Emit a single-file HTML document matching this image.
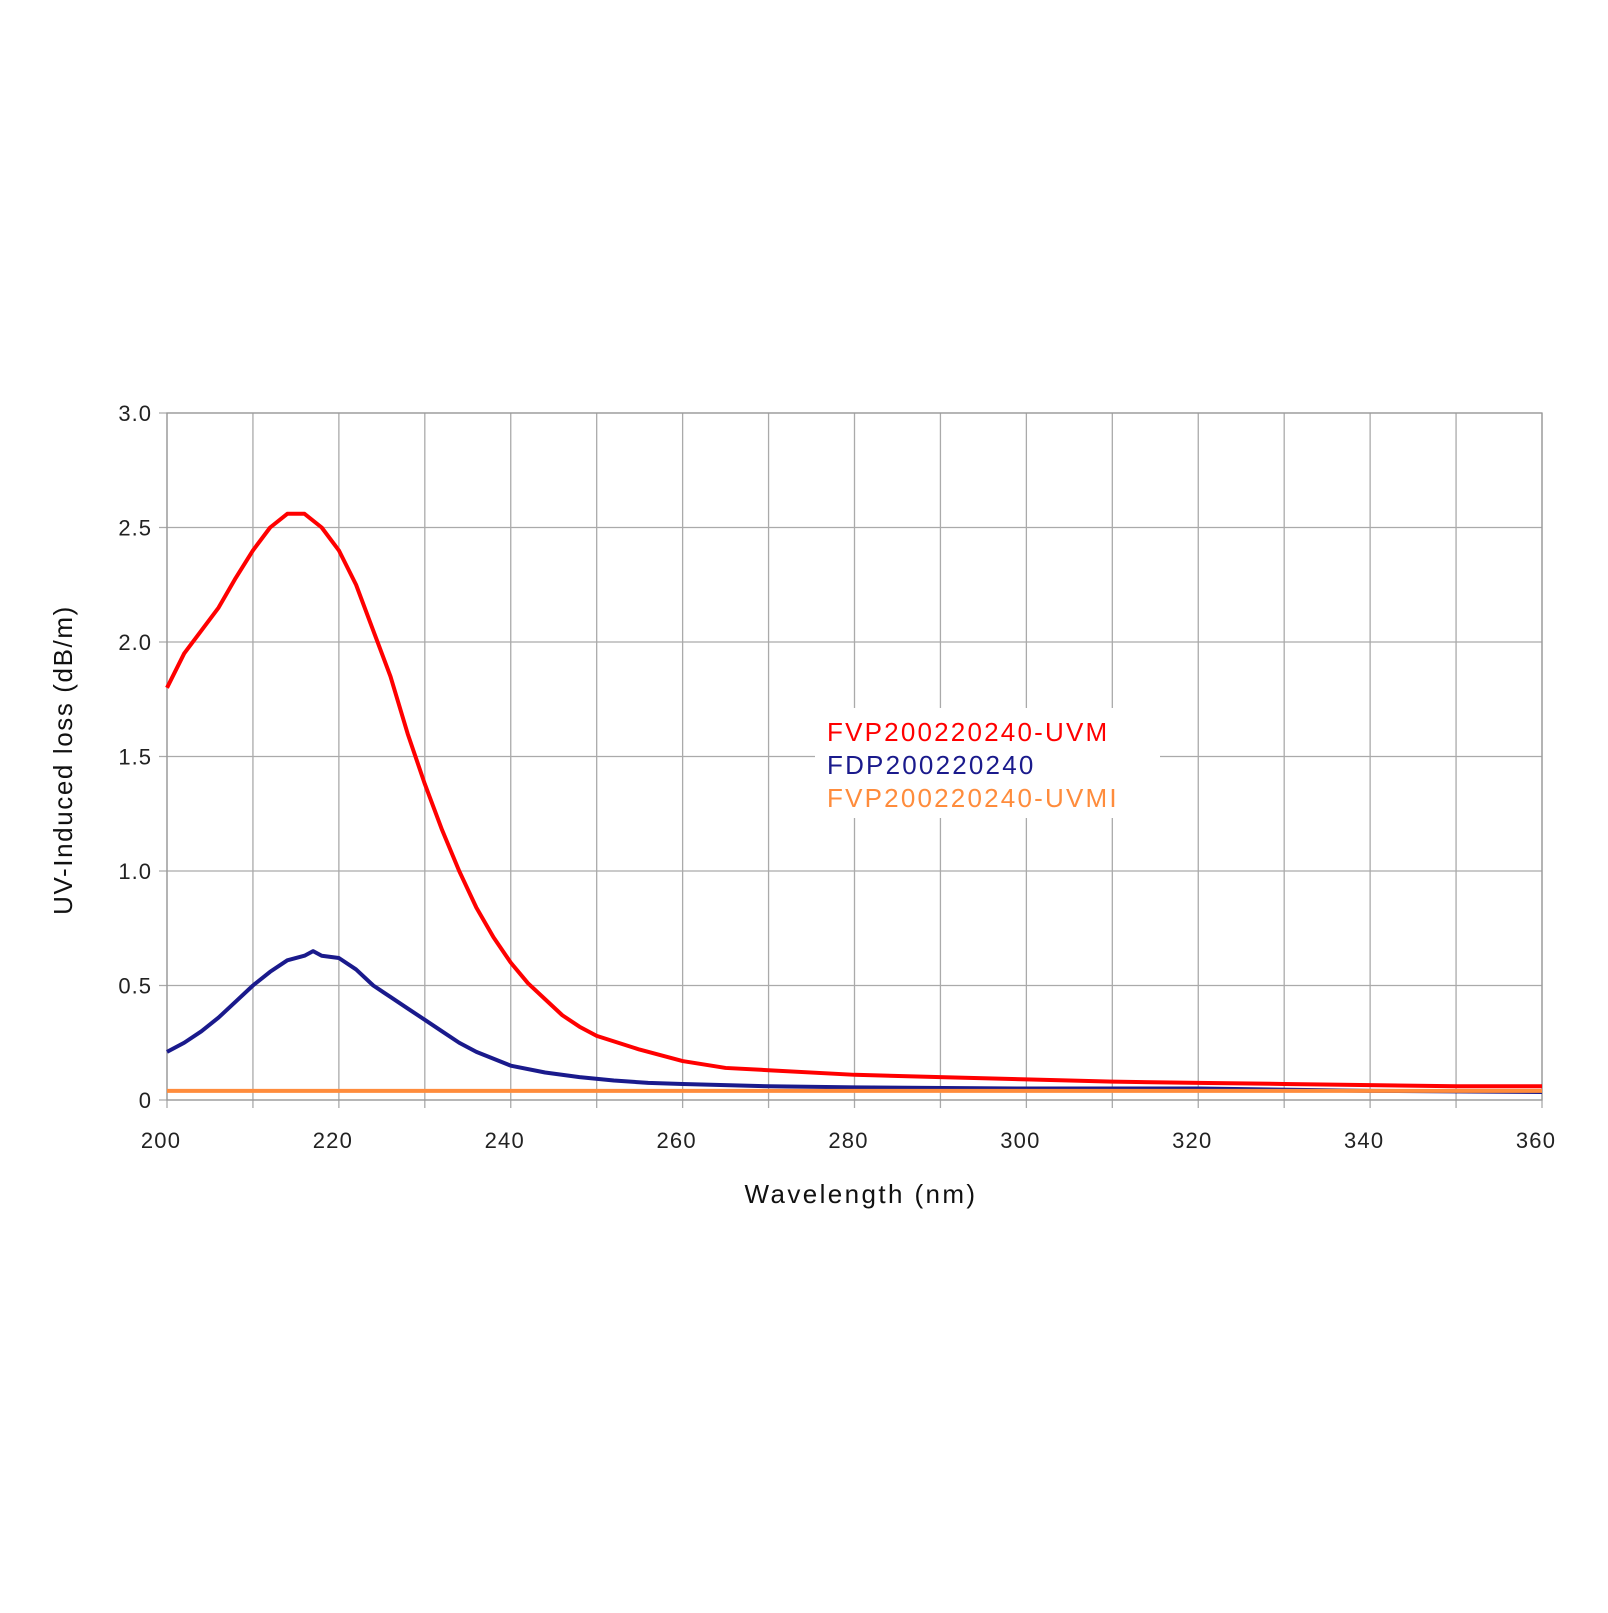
<!DOCTYPE html>
<html><head><meta charset="utf-8"><style>
body{margin:0;background:#fff}
svg text{font-family:"Liberation Sans",sans-serif}
</style></head><body>
<svg id="chart" width="1608" height="1608" xmlns="http://www.w3.org/2000/svg">
<g id="grid"></g><g id="axes"></g><g id="series"></g>
<rect x="815" y="708" width="345" height="110" fill="#fff"/>
<g font-size="26" letter-spacing="2.2">
<text x="827" y="741" fill="#ff0000">FVP200220240-UVM</text>
<text x="827" y="774" fill="#1a1a8c">FDP200220240</text>
<text x="827" y="807" fill="#ff8c3c">FVP200220240-UVMI</text>
</g>
<text x="861" y="1203" font-size="26" letter-spacing="2.4" text-anchor="middle" fill="#111">Wavelength (nm)</text>
<text transform="translate(72,760) rotate(-90)" font-size="26" letter-spacing="1.6" text-anchor="middle" fill="#111">UV-Induced loss (dB/m)</text>
</svg>
<script>
const xTicks=[200,220,240,260,280,300,320,340,360];
const xGrid=[200,210,220,230,240,250,260,270,280,290,300,310,320,330,340,350,360];
const yTicks=[0,0.5,1.0,1.5,2.0,2.5,3.0];
const yTickLabels=["0","0.5","1.0","1.5","2.0","2.5","3.0"];
const uvmX=[200,202,204,206,208,210,212,214,216,218,220,222,224,226,228,230,232,234,236,238,240,242,244,246,248,250,255,260,265,270,280,290,300,310,320,330,340,350,360];
const uvmY=[1.8,1.95,2.05,2.15,2.28,2.4,2.5,2.56,2.56,2.5,2.4,2.25,2.05,1.85,1.6,1.38,1.18,1.0,0.84,0.71,0.6,0.51,0.44,0.37,0.32,0.28,0.22,0.17,0.14,0.13,0.11,0.1,0.09,0.08,0.075,0.07,0.065,0.06,0.06];
const fdpX=[200,202,204,206,208,210,212,214,216,217,218,220,222,224,226,228,230,232,234,236,238,240,244,248,252,256,260,270,280,300,320,340,360];
const fdpY=[0.21,0.25,0.3,0.36,0.43,0.5,0.56,0.61,0.63,0.65,0.63,0.62,0.57,0.5,0.45,0.4,0.35,0.3,0.25,0.21,0.18,0.15,0.12,0.1,0.085,0.075,0.07,0.06,0.055,0.05,0.05,0.04,0.035];
const uvmiX=[200,360];
const uvmiY=[0.04,0.04];
const L=167,R=1542,T=413,B=1100;
const sx=v=>L+(v-200)/160*(R-L), sy=v=>B-v/3*(B-T);
const NS="http://www.w3.org/2000/svg";
function mk(tag,attrs,parent){const e=document.createElementNS(NS,tag);for(const k in attrs)e.setAttribute(k,attrs[k]);document.getElementById(parent).appendChild(e);return e;}
xGrid.forEach(v=>{const e=mk('line',{x1:sx(v),x2:sx(v),y1:T,y2:B+8,stroke:'#aaa','stroke-width':1.3},'grid');

});
yTicks.forEach((v,i)=>{const e=mk('line',{x1:L-8,x2:R,y1:sy(v),y2:sy(v),stroke:'#aaa','stroke-width':1.3},'grid');


const t=mk('text',{x:152,y:sy(v)+8,'font-size':22,'letter-spacing':1,'text-anchor':'end',fill:'#222'},'axes');t.textContent=yTickLabels[i];

});
xTicks.forEach(v=>{const t=mk('text',{x:sx(v)-6,y:1148,'font-size':22,'letter-spacing':1.2,'text-anchor':'middle',fill:'#222'},'axes');t.textContent=v;

});
const fr=mk('rect',{x:L,y:T,width:R-L,height:B-T,fill:'none',stroke:'#999','stroke-width':1.3},'axes');


function line(xs,ys,c,name){const p=mk('polyline',{points:xs.map((x,i)=>sx(x)+','+sy(ys[i])).join(' '),fill:'none',stroke:c,'stroke-width':4,'stroke-linejoin':'round'},'series');

}
line(fdpX,fdpY,'#1a1a8c','series-fdp');
line(uvmX,uvmY,'#ff0000','series-uvm');
line(uvmiX,uvmiY,'#ff8c3c','series-uvmi');
</script>
</body></html>
